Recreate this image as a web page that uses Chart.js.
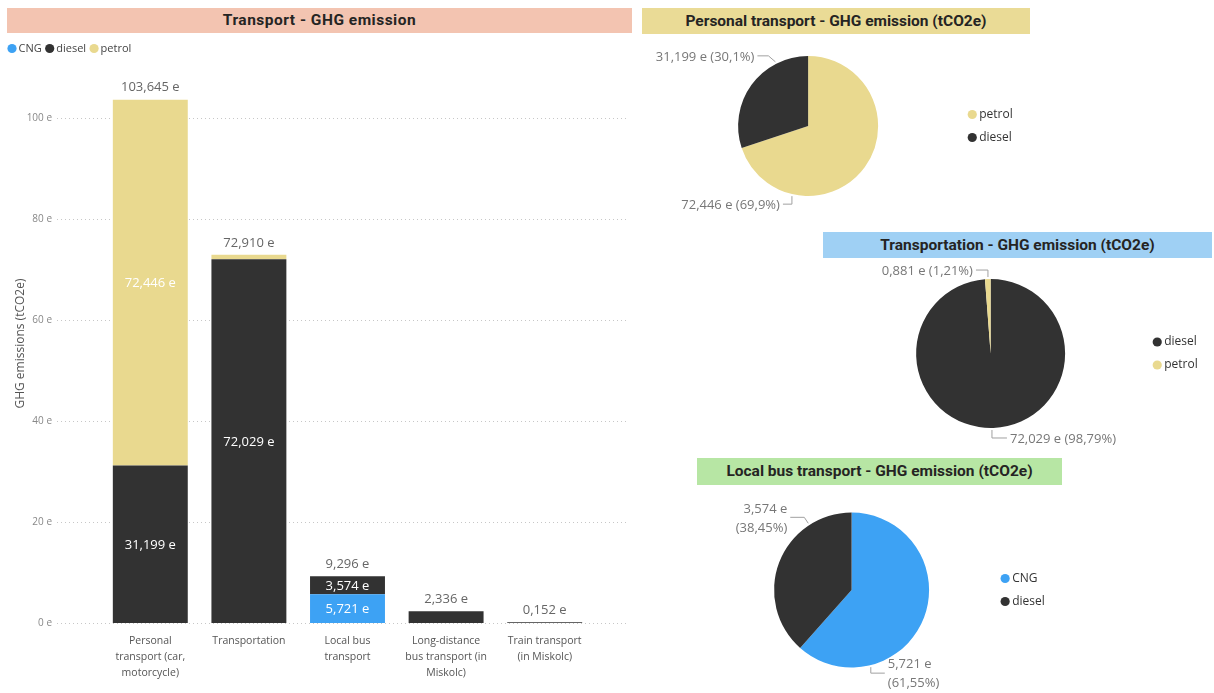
<!DOCTYPE html>
<html>
<head>
<meta charset="utf-8">
<title>Transport - GHG emission</title>
<script src="https://cdn.jsdelivr.net/npm/chart.js@4.4.0/dist/chart.umd.min.js"></script>
<style>
  body { margin: 0; width: 1214px; height: 693px; background: #fff; position: relative; overflow: hidden; }
  .title { position: absolute; height: 26px; line-height: 26px; text-align: center;
           font-family: Roboto, sans-serif; font-weight: 700; font-size: 15.5px; color: #252423; }
  .box { position: absolute; }
</style>
</head>
<body>
<div class="title" style="left:7px;top:8px;width:625px;height:25px;line-height:25px;letter-spacing:0.5px;background:#F3C4B1">Transport - GHG emission</div>
<div class="title" style="left:642px;top:8px;width:388px;background:#EADB96">Personal transport - GHG emission (tCO2e)</div>
<div class="title" style="left:823px;top:232px;width:389px;background:#9FD0F4">Transportation - GHG emission (tCO2e)</div>
<div class="title" style="left:697px;top:458px;width:365px;height:27px;line-height:27px;background:#B7E6A4">Local bus transport - GHG emission (tCO2e)</div>

<div class="box" style="left:0;top:9px;width:640px;height:684px"><canvas id="bars"></canvas></div>
<div class="box" style="left:644px;top:40px;width:380px;height:180px"><canvas id="personal"></canvas></div>
<div class="box" style="left:830px;top:262px;width:380px;height:190px"><canvas id="transportation"></canvas></div>
<div class="box" style="left:700px;top:490px;width:360px;height:203px"><canvas id="localBus"></canvas></div>

<script>
// emissions per transport type and fuel, in thousand tCO2e
const categories = [
  ['Personal', 'transport (car,', 'motorcycle)'],
  'Transportation',
  ['Local bus', 'transport'],
  ['Long-distance', 'bus transport (in', 'Miskolc)'],
  ['Train transport', '(in Miskolc)']
];
const cngValues = [0, 0, 5.7214, 0, 0];
const dieselValues = [31.199, 72.029, 3.5744, 2.336, 0.152];
const petrolValues = [72.446, 0.881, 0, 0, 0];
const yTicks = [0, 20, 40, 60, 80, 100];

const personalFuels = ['petrol', 'diesel'];
const personalValues = [72.446, 31.199];
const transportationFuels = ['diesel', 'petrol'];
const transportationValues = [72.029, 0.881];
const localBusFuels = ['CNG', 'diesel'];
const localBusValues = [5.7214, 3.5744];

const COLORS = { CNG: '#3DA2F4', diesel: '#323232', petrol: '#E9D98F' };
const FONT = '"Open Sans", sans-serif';

const fmt = (v) => v.toFixed(3).replace('.', ',') + ' e';

// dotted horizontal grid, runs a bit wider than the bars
const dottedGrid = {
  id: 'dottedGrid',
  beforeDatasetsDraw(chart, args, opts) {
    const { ctx, scales: { y } } = chart;
    ctx.save();
    ctx.strokeStyle = opts.color;
    ctx.lineWidth = 1;
    ctx.setLineDash([1, 3]);
    y.ticks.forEach((t) => {
      const py = Math.round(y.getPixelForValue(t.value)) + 0.5;
      ctx.beginPath();
      ctx.moveTo(opts.from, py);
      ctx.lineTo(opts.to, py);
      ctx.stroke();
    });
    ctx.restore();
  }
};

// values inside the segments + stack totals on top
const barLabels = {
  id: 'barLabels',
  afterDatasetsDraw(chart) {
    const ctx = chart.ctx;
    const y = chart.scales.y;
    ctx.save();
    ctx.font = '13px ' + FONT;
    ctx.textAlign = 'center';
    ctx.textBaseline = 'middle';
    chart.data.datasets.forEach((ds, i) => {
      chart.getDatasetMeta(i).data.forEach((bar, j) => {
        const v = ds.data[j];
        if (!v || bar.base - bar.y < 15) return;
        ctx.fillStyle = '#fff';
        ctx.fillText(fmt(v), bar.x, (bar.y + bar.base) / 2 + 1);
      });
    });
    const first = chart.getDatasetMeta(0).data;
    chart.data.labels.forEach((l, j) => {
      const total = chart.data.datasets.reduce((s, ds) => s + ds.data[j], 0);
      ctx.fillStyle = '#666';
      ctx.fillText(fmt(total), first[j].x, y.getPixelForValue(total) - 12);
    });
    ctx.restore();
  }
};

// leader-line labels round the pies
const pieCallouts = {
  id: 'pieCallouts',
  afterDatasetsDraw(chart, args, opts) {
    if (!opts.items) return;
    const ctx = chart.ctx;
    const values = chart.data.datasets[0].data;
    const total = values.reduce((a, b) => a + b, 0);
    ctx.save();
    ctx.font = '13px ' + FONT;
    ctx.textBaseline = 'middle';
    ctx.lineWidth = 1;
    chart.getDatasetMeta(0).data.forEach((arc, i) => {
      const c = opts.items[i];
      const a = c.at * Math.PI / 180;
      const r = arc.outerRadius + 2;
      const x0 = arc.x + r * Math.sin(a);
      const y0 = arc.y - r * Math.cos(a);
      const x1 = x0 + (c.dx || 0);
      const y1 = y0 + c.dy;
      const x2 = x1 + c.run;
      ctx.strokeStyle = '#a0a0a0';
      ctx.beginPath();
      ctx.moveTo(x0, y0);
      ctx.lineTo(x1, y1);
      ctx.lineTo(x2, y1);
      ctx.stroke();
      const pct = '(' + (values[i] / total * 100).toFixed(opts.decimals).replace('.', ',') + '%)';
      const lines = opts.wrap ? [fmt(values[i]), pct] : [fmt(values[i]) + ' ' + pct];
      ctx.fillStyle = '#777';
      ctx.textAlign = c.run < 0 ? 'right' : 'left';
      const tx = x2 + (c.run < 0 ? -3 : 3);
      lines.forEach((t, k) => {
        ctx.fillText(t, tx, y1 + 1 + (k - (lines.length - 1) / 2) * 19);
      });
    });
    ctx.restore();
  }
};

// small round markers sitting close to their text
const legendLabels = (size) => ({
  usePointStyle: true, pointStyle: 'circle', boxWidth: 2, boxHeight: 6.5,
  color: '#333', font: { family: FONT, size }
});

new Chart(document.getElementById('bars'), {
  type: 'bar',
  data: {
    labels: categories,
    datasets: [
      { label: 'CNG', data: cngValues, backgroundColor: COLORS.CNG },
      { label: 'diesel', data: dieselValues, backgroundColor: COLORS.diesel },
      { label: 'petrol', data: petrolValues, backgroundColor: COLORS.petrol }
    ]
  },
  options: {
    responsive: true,
    maintainAspectRatio: false,
    animation: false,
    events: [],
    layout: { padding: { left: 4, right: 46, top: 5, bottom: 10 } },
    datasets: { bar: { categoryPercentage: 1, barPercentage: 0.76 } },
    scales: {
      x: {
        stacked: true,
        grid: { display: false },
        border: { display: false },
        ticks: {
          padding: 2, maxRotation: 0, autoSkip: false, color: '#555',
          font: { family: FONT, size: 10.5, lineHeight: 1.52 }
        }
      },
      y: {
        stacked: true,
        min: 0,
        max: 110.7,
        grid: { display: false, drawTicks: false },
        border: { display: false },
        afterBuildTicks: (s) => { s.ticks = yTicks.map((v) => ({ value: v })); },
        afterFit: (s) => { s.width = 97; },
        ticks: {
          padding: 49, color: '#888',
          font: { family: FONT, size: 10 },
          callback: (v) => v + ' e'
        },
        title: {
          display: true, text: 'GHG emissions (tCO2e)', color: '#555',
          padding: { top: 9, bottom: 0 },
          font: { family: FONT, size: 12 }
        }
      }
    },
    plugins: {
      legend: {
        position: 'top',
        align: 'start',
        labels: { ...legendLabels(11), padding: 7, color: '#444' }
      },
      tooltip: { enabled: false },
      dottedGrid: { color: 'rgba(0,0,0,0.22)', from: 57, to: 628 }
    }
  },
  plugins: [dottedGrid, barLabels]
});

function pie(id, fuels, values, padding, callouts) {
  return new Chart(document.getElementById(id), {
    type: 'pie',
    data: {
      labels: fuels,
      datasets: [{ data: values, backgroundColor: fuels.map((f) => COLORS[f]), borderWidth: 0 }]
    },
    options: {
      responsive: true,
      maintainAspectRatio: false,
      animation: false,
      events: [],
      layout: { padding },
      plugins: {
        legend: {
          position: 'right',
          labels: { ...legendLabels(12), padding: 11 }
        },
        tooltip: { enabled: false },
        pieCallouts: callouts
      }
    },
    plugins: [pieCallouts]
  });
}

pie('personal', personalFuels, personalValues,
  { left: 12, right: 1.25, top: 16, bottom: 24 },
  { decimals: 1, items: [
    { at: 193, dy: 8, run: -9 },
    { at: 333, dx: -7, dy: -6, run: -11 }
  ] });

pie('transportation', transportationFuels, transportationValues,
  { left: 6, right: 2.25, top: 17, bottom: 24 },
  { decimals: 2, items: [
    { at: 179, dy: 8, run: 15 },
    { at: 358, dy: -7, run: -12 }
  ] });

pie('localBus', localBusFuels, localBusValues,
  { left: 10, right: 5.25, top: 22.5, bottom: 25.5 },
  { decimals: 2, wrap: true, items: [
    { at: 166, dy: 6, run: 14 },
    { at: 327, dx: -4, dy: -6, run: -14 }
  ] });
</script>
</body>
</html>
